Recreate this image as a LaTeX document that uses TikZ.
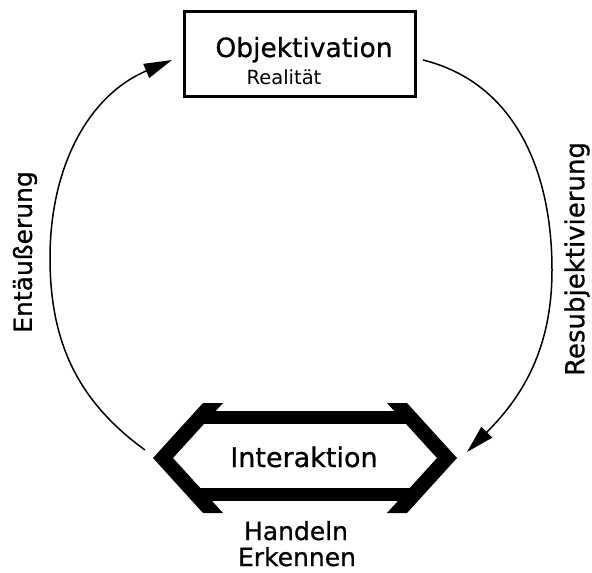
\documentclass[tikz,border=0pt]{standalone}
\usepackage{fontspec}
\setmainfont{DejaVu Sans}
\newfontfamily\medfont{DejaVu Sans}[FakeBold=0.8]
\usetikzlibrary{arrows.meta}
\tikzset{
  txt/.style={inner sep=0pt, anchor=base},
  conn/.style={line width=1.5pt, -{Triangle[length=28pt,width=15pt]}},
  band/.style={fill=black},
  frame/.style={draw, line width=3pt}
}
\begin{document}
\begin{tikzpicture}[x=1pt,y=-1pt]
\useasboundingbox (0,0) rectangle (592,573);
% top box
\draw[frame] (184,11) rectangle (415,96);
\node[txt] (obj) at (304,57) {\fontsize{26.5}{30}\medfont Objektivation};
\node[txt] (real) at (284,84) {\fontsize{19.5}{22}\selectfont Realität};
% hexagon-like double arrow
\fill[band] (203,403) -- (223,403) -- (173,458) -- (223,513) -- (203,513) -- (153,458) -- cycle;
\fill[band] (407,403) -- (387,403) -- (437,458) -- (387,513) -- (407,513) -- (457,458) -- cycle;
\fill[band] (200,411) rectangle (410,424);
\fill[band] (200,488) rectangle (410,501);
\node[txt] (inter) at (304,467) {\fontsize{27}{30}\medfont Interaktion};
\node[txt] (hand) at (296,540) {\fontsize{25}{28}\medfont Handeln};
\node[txt] (erk) at (297,566) {\fontsize{25}{28}\medfont Erkennen};
% connectors
\coordinate (lstart) at (145,450);
\coordinate (lmid) at (50,258);
\coordinate (lend) at (172,60);
\coordinate (rstart) at (423,60);
\coordinate (rmid) at (552,270);
\coordinate (rend) at (467,452);
\draw[conn] (lstart) to[out=144,in=-90] (lmid) to[out=90,in=203] (lend);
\draw[conn] (rstart) to[out=-14,in=90] (rmid) to[out=-90,in=45] (rend);
% side labels
\node[inner sep=0pt, rotate=90] (ent) at (25,252) {\fontsize{25}{28}\medfont Entäußerung};
\node[inner sep=0pt, rotate=90] (res) at (577,259) {\fontsize{26}{28}\medfont Resubjektivierung};
\end{tikzpicture}
\end{document}
